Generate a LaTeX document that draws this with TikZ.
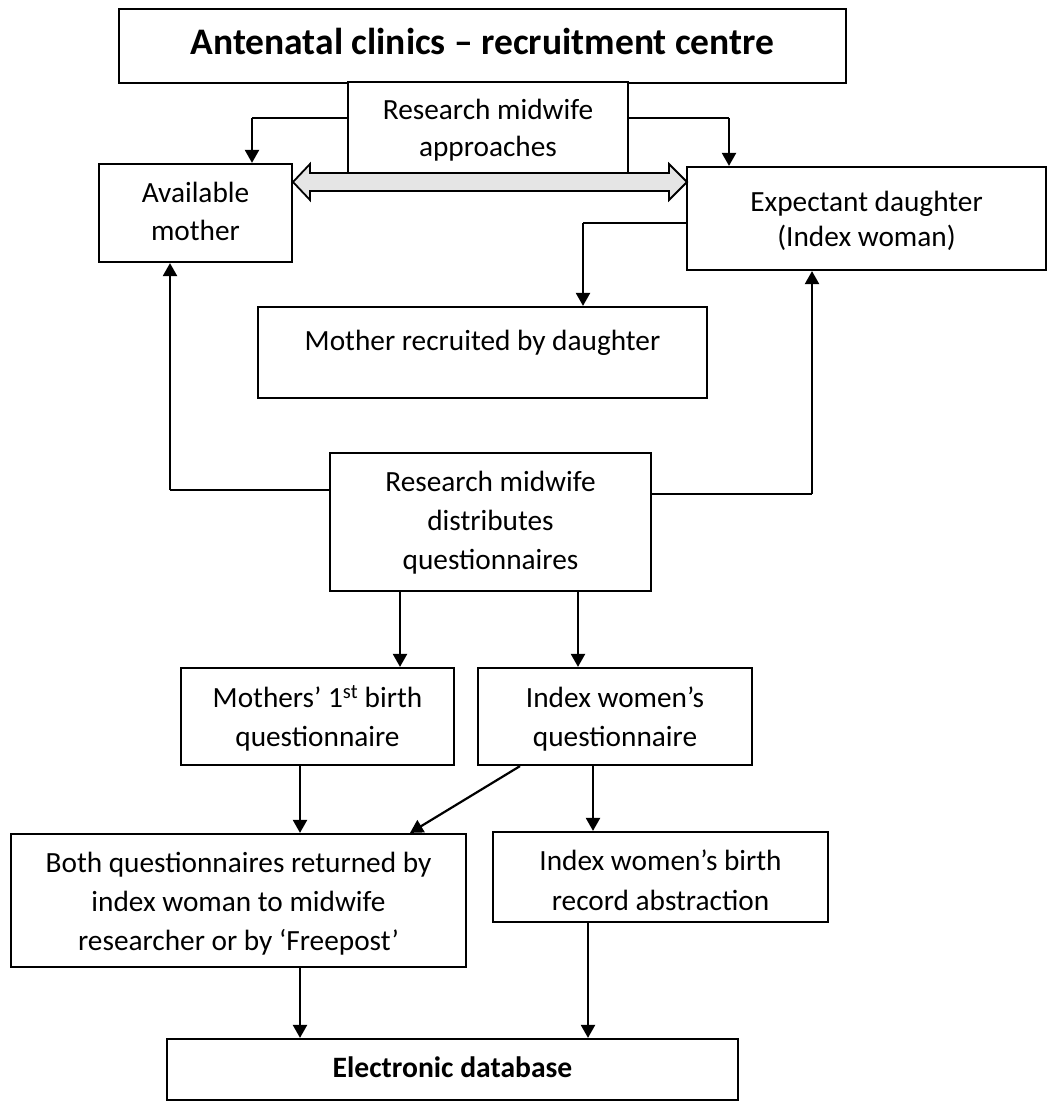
\documentclass[tikz,border=0pt]{standalone}
\usepackage{fontspec}
\setmainfont{Carlito}
\usetikzlibrary{arrows.meta,calc}
\begin{document}
\begin{tikzpicture}[x=1pt,y=-1pt,
  box/.style={draw,line width=2.2pt,inner sep=0pt,align=center,fill=white,
    font=\fontsize{29.3}{38.5}\selectfont},
  conn/.style={line width=2.2pt,-{Triangle[length=13pt,width=14pt]}},
  thinline/.style={line width=1.2pt},
  dbl/.style={line width=1.8pt,fill=gray!20,line join=miter}]
\useasboundingbox (0,0) rectangle (1048,1102);
% boxes
\node[box,minimum width=727pt,minimum height=74pt,text height=18pt,text depth=0pt,
  font=\bfseries\fontsize{37.5}{40}\selectfont] (title) at (482.5,46) {Antenatal clinics -- recruitment centre};
\node[box,minimum width=280pt,minimum height=91pt,text height=59pt,text depth=0pt,
  font=\fontsize{29.3}{37}\selectfont] (appr) at (488,127.5) {Research midwife\\approaches};
\node[box,minimum width=193pt,minimum height=98pt,text height=54pt,text depth=0pt,
  font=\fontsize{29.3}{37.3}\selectfont] (avail) at (195.5,213) {Available\\mother};
\node[box,minimum width=359pt,minimum height=103pt,text height=56.4pt,text depth=0pt,
  font=\fontsize{29.3}{35.5}\selectfont] (expect) at (866.5,218.5) {Expectant daughter\\(Index woman)};
\node[box,minimum width=449pt,minimum height=91pt,text height=0pt,text depth=5pt] (mrec) at (482.5,352.5) {Mother recruited by daughter};
\node[box,minimum width=321pt,minimum height=138pt,text height=94pt,text depth=0pt,
  font=\fontsize{29.3}{38.8}\selectfont] (dist) at (490.5,522) {Research midwife\\distributes\\questionnaires};
\node[box,minimum width=273pt,minimum height=97pt,text height=59pt,text depth=0pt] (mq) at (317.5,716.5) {Mothers’ 1\textsuperscript{st} birth\\questionnaire};
\node[box,minimum width=274pt,minimum height=97pt,text height=59pt,text depth=0pt] (iq) at (615,716.5) {Index women’s\\questionnaire};
\node[box,minimum width=455pt,minimum height=133pt,text height=100.4pt,text depth=0pt,
  font=\fontsize{29.3}{39}\selectfont] (both) at (238.5,900.5) {Both questionnaires returned by\\index woman to midwife\\researcher or by ‘Freepost’};
\node[box,minimum width=335pt,minimum height=90pt,text height=66pt,text depth=0pt,
  font=\fontsize{29.3}{39.3}\selectfont] (ib) at (660.5,877) {Index women’s birth\\record abstraction};
\node[box,minimum width=571pt,minimum height=61pt,text height=15pt,text depth=0pt,
  font=\bfseries\fontsize{29.6}{38}\selectfont] (edb) at (452.5,1069.5) {Electronic database};
% double arrow
\draw[dbl] (293,182) -- (310,164) -- (310,173) -- (669,173) -- (669,164) -- (687,182)
  -- (669,200) -- (669,191) -- (310,191) -- (310,200) -- cycle;
% bend points
\coordinate (b1) at (252,118);
\coordinate (b2) at (729,118);
\coordinate (b3) at (583,223);
\coordinate (b4) at (170,490);
\coordinate (b5) at (812,494);
% connectors
\draw[thinline] (appr.west |- b1) -- (b1);
\draw[conn] (b1) -- (b1 |- avail.north);
\draw[thinline] (appr.east |- b2) -- (b2);
\draw[conn] (b2) -- (b2 |- expect.north);
\draw[thinline] (expect.west |- b3) -- (b3);
\draw[conn] (b3) -- (b3 |- mrec.north);
\draw[thinline] (dist.west |- b4) -- (b4);
\draw[conn] (b4) -- (b4 |- avail.south);
\draw[thinline] (dist.east |- b5) -- (b5);
\draw[conn] (b5) -- (b5 |- expect.south);
\draw[conn] ([xshift=-90.5pt]dist.south) -- ([xshift=82.5pt]mq.north);
\draw[conn] ([xshift=87.5pt]dist.south) -- ([xshift=-37pt]iq.north);
\draw[conn] ([xshift=-17.5pt]mq.south) -- ([xshift=61.5pt]both.north);
\draw[conn] ([xshift=-95pt]iq.south) -- ([xshift=171.5pt]both.north);
\draw[conn] ([xshift=-22pt]iq.south) -- ([xshift=-67.5pt]ib.north);
\draw[conn] ([xshift=61.5pt]both.south) -- ([xshift=-152.5pt]edb.north);
\draw[conn] ([xshift=-72.5pt]ib.south) -- ([xshift=135.5pt]edb.north);
\end{tikzpicture}
\end{document}
